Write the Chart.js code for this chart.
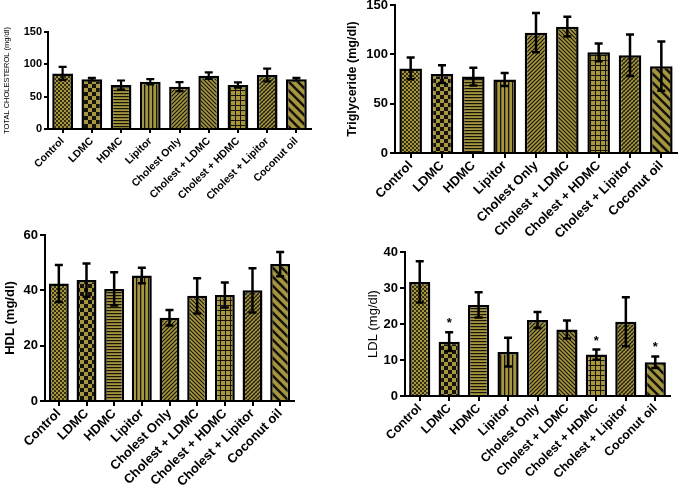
<!DOCTYPE html>
<html>
<head>
<meta charset="utf-8">
<script src="https://cdn.jsdelivr.net/npm/chart.js@4.4.0/dist/chart.umd.min.js"></script>
<style>
  html, body { margin: 0; padding: 0; background: #fff; width: 685px; height: 488px; overflow: hidden; }
  .panel { position: absolute; }
</style>
</head>
<body>
<div class="panel" style="left:0px; top:0px;"><canvas id="c1" width="320" height="200"></canvas></div>
<div class="panel" style="left:340px; top:-5px;"><canvas id="c2" width="345" height="245"></canvas></div>
<div class="panel" style="left:0px; top:220px;"><canvas id="c3" width="345" height="268"></canvas></div>
<div class="panel" style="left:340px; top:230px;"><canvas id="c4" width="345" height="258"></canvas></div>
<script>
// ---- data ----
const groups = ["Control", "LDMC", "HDMC", "Lipitor", "Cholest Only", "Cholest + LDMC", "Cholest + HDMC", "Cholest + Lipitor", "Coconut oil"];

const tcMean = [86, 77, 68, 73, 65.5, 82.5, 68, 83.5, 77];
const tcErr  = [10, 2, 7, 4, 7, 5, 4, 10, 2];
const tcTicks = [0, 50, 100, 150];

const tgMean = [85.7, 80, 77.5, 74.5, 122, 128, 102, 99, 88];
const tgErr  = [11, 9, 9, 6.5, 20, 10, 9, 21, 25];
const tgTicks = [0, 50, 100, 150];

const hdlMean = [42.5, 43.7, 40.5, 45.4, 30.1, 38, 38.3, 40, 49.5];
const hdlErr  = [6.7, 6, 6, 2.8, 2.8, 6.4, 4.5, 8, 4.4];
const hdlTicks = [0, 20, 40, 60];

const ldlMean = [31.7, 15.1, 25.3, 12.2, 21.1, 18.5, 11.5, 20.6, 9.4];
const ldlErr  = [5.7, 2.6, 3.5, 4, 2.2, 2.5, 1.4, 6.8, 1.6];
const ldlStar = [false, true, false, false, false, false, true, false, true];
const ldlTicks = [0, 10, 20, 30, 40];

// ---- patterns ----
const BASE = '#a6973f';
const DARK = '#16140a';
function tile(size, draw) {
  const c = document.createElement('canvas');
  c.width = size; c.height = size;
  const g = c.getContext('2d');
  g.fillStyle = BASE; g.fillRect(0, 0, size, size);
  g.fillStyle = DARK; g.strokeStyle = DARK;
  draw(g, size);
  return g.createPattern(c, 'repeat');
}
function diag(g, s, w, dir) {
  g.lineWidth = w;
  g.beginPath();
  if (dir > 0) { // "/"
    g.moveTo(-1, s + 1); g.lineTo(s + 1, -1);
    g.moveTo(-1 - s, s + 1); g.lineTo(1, -1);
    g.moveTo(s - 1, s + 1); g.lineTo(2 * s + 1, -1);
  } else { // "\"
    g.moveTo(-1, -1); g.lineTo(s + 1, s + 1);
    g.moveTo(-1 - s, -1); g.lineTo(1, s + 1);
    g.moveTo(s - 1, -1); g.lineTo(2 * s + 1, s + 1);
  }
  g.stroke();
}
function makePatterns() {
  return [
    tile(4, (g) => { g.globalAlpha = 0.8; g.fillRect(0, 0, 2, 2); g.fillRect(2, 2, 2, 2); }),
    tile(8, (g) => { g.fillRect(0, 0, 4, 4); g.fillRect(4, 4, 4, 4); }),
    tile(3, (g) => { g.fillRect(0, 0, 3, 1.2); }),
    tile(4, (g) => { g.fillRect(0, 0, 1.3, 4); }),
    tile(4, (g, s) => diag(g, s, 1.2, 1)),
    tile(4, (g, s) => diag(g, s, 1.1, -1)),
    tile(5, (g) => { g.fillRect(0, 0, 5, 1); g.fillRect(0, 0, 1, 5); }),
    tile(4, (g, s) => { diag(g, s, 1.1, 1); g.globalAlpha = 0.45; diag(g, s, 0.8, -1); }),
    tile(9, (g, s) => diag(g, s, 2.6, -1))
  ];
}

// ---- error bar plugin ----
const errBars = {
  id: 'errbars',
  afterDatasetsDraw(chart, args, opts) {
    const meta = chart.getDatasetMeta(0);
    const ys = chart.scales.y;
    const vals = chart.data.datasets[0].data;
    const ctx = chart.ctx;
    ctx.save();
    ctx.strokeStyle = '#000';
    ctx.lineWidth = opts.lw || 2.5;
    const cap = opts.cap || 4;
    meta.data.forEach((bar, i) => {
      const x = bar.x;
      const top = ys.getPixelForValue(vals[i] + opts.err[i]);
      const bot = ys.getPixelForValue(vals[i] - opts.err[i]);
      ctx.beginPath();
      ctx.moveTo(x, top); ctx.lineTo(x, bot);
      ctx.moveTo(x - cap, top); ctx.lineTo(x + cap, top);
      ctx.moveTo(x - cap, bot); ctx.lineTo(x + cap, bot);
      ctx.stroke();
      if (opts.stars && opts.stars[i]) {
        ctx.fillStyle = '#000';
        ctx.font = 'bold 13px "Liberation Sans", Arial, sans-serif';
        ctx.textAlign = 'center';
        ctx.textBaseline = 'alphabetic';
        ctx.fillText('*', x, top - 5);
      }
    });
    ctx.restore();
  }
};

const FAM = '"Liberation Sans", Arial, Helvetica, sans-serif';

function makeChart(id, cfg) {
  const ctx = document.getElementById(id).getContext('2d');
  return new Chart(ctx, {
    type: 'bar',
    data: {
      labels: groups,
      datasets: [{
        data: cfg.mean,
        backgroundColor: makePatterns(),
        borderColor: '#000',
        borderWidth: cfg.bw,
        borderSkipped: 'bottom',
        barPercentage: cfg.barPct,
        categoryPercentage: 1
      }]
    },
    options: {
      responsive: false,
      animation: false,
      events: [],
      layout: { padding: cfg.pad },
      plugins: {
        legend: { display: false },
        tooltip: { enabled: false },
        errbars: { err: cfg.err, stars: cfg.stars, cap: cfg.cap, lw: cfg.elw }
      },
      scales: {
        x: {
          offset: true,
          grid: { offset: false, drawOnChartArea: false, drawTicks: true, tickLength: cfg.tl, color: '#000', lineWidth: 2 },
          border: { color: '#000', width: 2 },
          ticks: {
            color: '#000', autoSkip: false, maxRotation: 45, minRotation: 45, padding: cfg.xpad || 0,
            font: { family: FAM, size: cfg.xfs, weight: 'bold' }
          },
          afterFit: (s) => { s.height = cfg.xH; }
        },
        y: {
          min: 0, max: cfg.ticks[cfg.ticks.length - 1],
          afterBuildTicks: (s) => { s.ticks = cfg.ticks.map(v => ({ value: v })); },
          grid: { drawOnChartArea: false, drawTicks: true, tickLength: cfg.tl, color: '#000', lineWidth: 2 },
          border: { color: '#000', width: 2 },
          ticks: { color: '#000', padding: 2, font: { family: FAM, size: cfg.yfs, weight: 'bold' } },
          title: {
            display: true, text: cfg.title, color: '#000', padding: 0,
            font: { family: FAM, size: cfg.tfs, weight: cfg.tw }
          },
          afterFit: (s) => { s.width = cfg.yW; }
        }
      }
    },
    plugins: [errBars]
  });
}

makeChart('c1', {
  mean: tcMean, err: tcErr, ticks: tcTicks, title: 'TOTAL CHOLESTEROL (mg/dl)',
  pad: { left: 2, right: 9, top: 32, bottom: 0 }, yW: 46, xH: 71, tl: 4, xpad: 2,
  xfs: 10.5, yfs: 11, tfs: 7.5, tw: 'normal', barPct: 0.71, bw: 2.5, cap: 4, elw: 2.2
});
makeChart('c2', {
  mean: tgMean, err: tgErr, ticks: tgTicks, title: 'Triglyceride (mg/dl)',
  pad: { left: 5, right: 8, top: 10, bottom: 0 }, yW: 50, xH: 87, tl: 5,
  xfs: 13, yfs: 13, tfs: 12.5, tw: 'bold', barPct: 0.72, bw: 2.5, cap: 4, elw: 2.5
});
makeChart('c3', {
  mean: hdlMean, err: hdlErr, ticks: hdlTicks, title: 'HDL (mg/dl)',
  pad: { left: 3, right: 51, top: 15, bottom: 0 }, yW: 42, xH: 87, tl: 5,
  xfs: 13, yfs: 13, tfs: 13, tw: 'bold', barPct: 0.72, bw: 2.5, cap: 4, elw: 2.5
});
makeChart('c4', {
  mean: ldlMean, err: ldlErr, ticks: ldlTicks, title: 'LDL (mg/dl)', stars: ldlStar,
  pad: { left: 26, right: 15, top: 22, bottom: 0 }, yW: 39, xH: 92, tl: 5,
  xfs: 12.5, yfs: 13, tfs: 13, tw: 'normal', barPct: 0.72, bw: 2.5, cap: 4, elw: 2.5
});
</script>
</body>
</html>
